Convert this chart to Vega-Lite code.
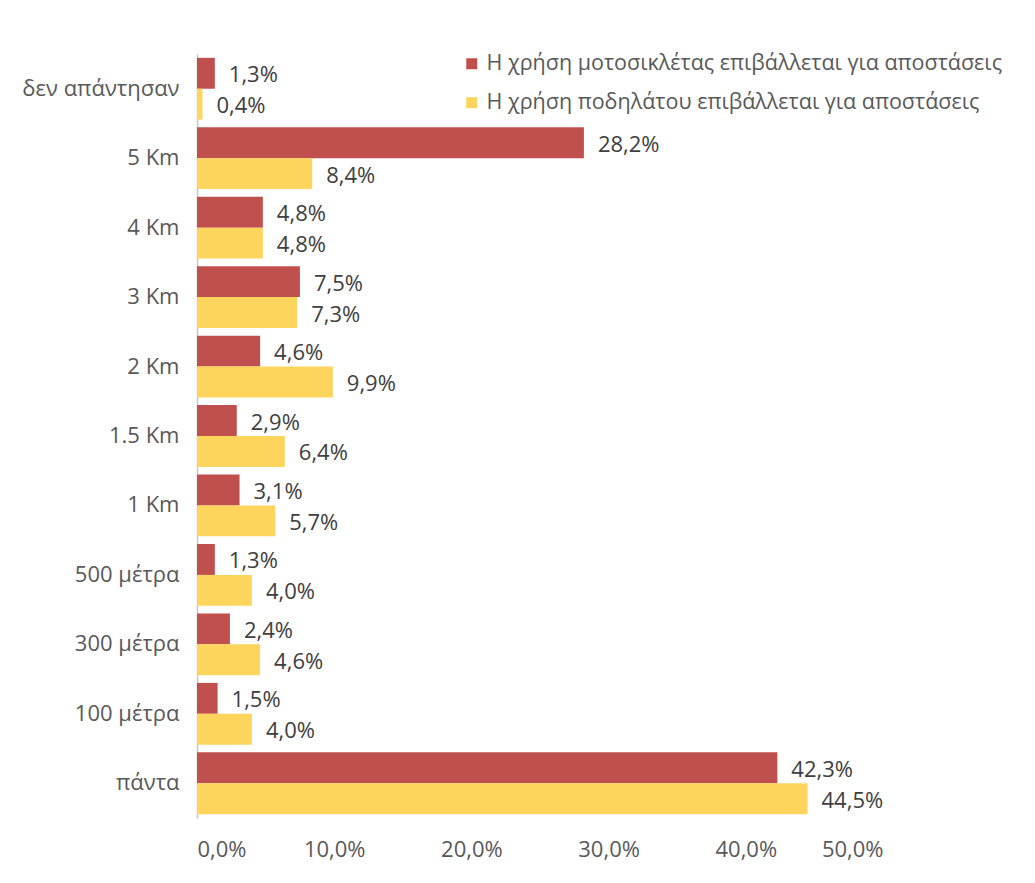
{
  "$schema": "https://vega.github.io/schema/vega-lite/v6.json",
  "autosize": "none",
  "width": 686,
  "height": 764,
  "padding": {"left": 197, "top": 54, "right": 152, "bottom": 65},
  "background": "white",
  "config": {
    "locale": {"number": {"decimal": ",", "thousands": ".", "grouping": [3], "currency": ["", " €"]}},
    "view": {"stroke": null},
    "font": "Open Sans"
  },
  "data": {
    "values": [
      {"cat": "δεν απάντησαν", "series": "Η χρήση μοτοσικλέτας επιβάλλεται για αποστάσεις", "value": 0.013},
      {"cat": "δεν απάντησαν", "series": "Η χρήση ποδηλάτου επιβάλλεται για αποστάσεις", "value": 0.004},
      {"cat": "5 Km", "series": "Η χρήση μοτοσικλέτας επιβάλλεται για αποστάσεις", "value": 0.282},
      {"cat": "5 Km", "series": "Η χρήση ποδηλάτου επιβάλλεται για αποστάσεις", "value": 0.084},
      {"cat": "4 Km", "series": "Η χρήση μοτοσικλέτας επιβάλλεται για αποστάσεις", "value": 0.048},
      {"cat": "4 Km", "series": "Η χρήση ποδηλάτου επιβάλλεται για αποστάσεις", "value": 0.048},
      {"cat": "3 Km", "series": "Η χρήση μοτοσικλέτας επιβάλλεται για αποστάσεις", "value": 0.075},
      {"cat": "3 Km", "series": "Η χρήση ποδηλάτου επιβάλλεται για αποστάσεις", "value": 0.073},
      {"cat": "2 Km", "series": "Η χρήση μοτοσικλέτας επιβάλλεται για αποστάσεις", "value": 0.046},
      {"cat": "2 Km", "series": "Η χρήση ποδηλάτου επιβάλλεται για αποστάσεις", "value": 0.099},
      {"cat": "1.5 Km", "series": "Η χρήση μοτοσικλέτας επιβάλλεται για αποστάσεις", "value": 0.029},
      {"cat": "1.5 Km", "series": "Η χρήση ποδηλάτου επιβάλλεται για αποστάσεις", "value": 0.064},
      {"cat": "1 Km", "series": "Η χρήση μοτοσικλέτας επιβάλλεται για αποστάσεις", "value": 0.031},
      {"cat": "1 Km", "series": "Η χρήση ποδηλάτου επιβάλλεται για αποστάσεις", "value": 0.057},
      {"cat": "500 μέτρα", "series": "Η χρήση μοτοσικλέτας επιβάλλεται για αποστάσεις", "value": 0.013},
      {"cat": "500 μέτρα", "series": "Η χρήση ποδηλάτου επιβάλλεται για αποστάσεις", "value": 0.040},
      {"cat": "300 μέτρα", "series": "Η χρήση μοτοσικλέτας επιβάλλεται για αποστάσεις", "value": 0.024},
      {"cat": "300 μέτρα", "series": "Η χρήση ποδηλάτου επιβάλλεται για αποστάσεις", "value": 0.046},
      {"cat": "100 μέτρα", "series": "Η χρήση μοτοσικλέτας επιβάλλεται για αποστάσεις", "value": 0.015},
      {"cat": "100 μέτρα", "series": "Η χρήση ποδηλάτου επιβάλλεται για αποστάσεις", "value": 0.040},
      {"cat": "πάντα", "series": "Η χρήση μοτοσικλέτας επιβάλλεται για αποστάσεις", "value": 0.423},
      {"cat": "πάντα", "series": "Η χρήση ποδηλάτου επιβάλλεται για αποστάσεις", "value": 0.445}
    ]
  },
  "encoding": {
    "y": {
      "field": "cat", "type": "nominal", "sort": null,
      "scale": {"paddingInner": 0.11, "paddingOuter": 0.055},
      "axis": {"title": null, "ticks": false, "domain": true, "domainColor": "#C8C8C8", "domainWidth": 1.5,
               "labelFontSize": 22, "labelColor": "#595959", "labelPadding": 18, "labelLimit": 300}
    },
    "yOffset": {"field": "series", "type": "nominal", "sort": null},
    "x": {
      "field": "value", "type": "quantitative",
      "scale": {"domain": [0, 0.5], "nice": false},
      "axis": {"title": null, "format": ".1%", "values": [0, 0.1, 0.2, 0.3, 0.4, 0.5], "grid": false, "ticks": false, "domain": false,
               "labelFontSize": 22, "labelColor": "#595959", "labelPadding": 21}
    }
  },
  "layer": [
    {
      "mark": {"type": "bar"},
      "encoding": {
        "color": {
          "field": "series", "type": "nominal", "sort": null,
          "scale": {"range": ["#C0504D", "#FDD55D"]},
          "legend": {"title": null, "orient": "none", "legendX": 264, "legendY": -1, "symbolType": "square", "symbolSize": 121,
                     "labelFontSize": 21.5, "labelColor": "#595959", "labelLimit": 700, "labelOffset": 4, "rowPadding": 16, "symbolOpacity": 1}
        }
      }
    },
    {
      "mark": {"type": "text", "align": "left", "baseline": "middle", "dx": 14, "dy": 2, "fontSize": 22, "color": "#404040"},
      "encoding": {
        "text": {"field": "value", "type": "quantitative", "format": ".1%"}
      }
    }
  ]
}
